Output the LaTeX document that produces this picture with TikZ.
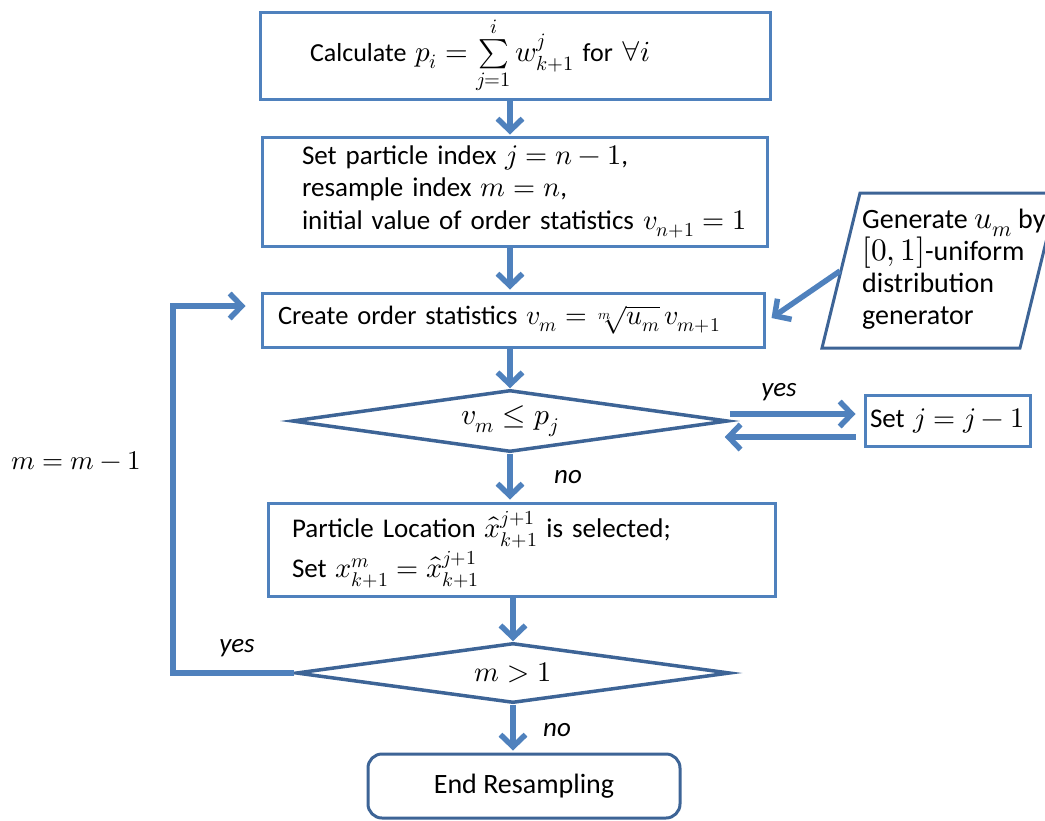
\documentclass[tikz,border=0pt]{standalone}
\usepackage{fontspec}
\usepackage{unicode-math}
\setmainfont{Carlito}
\setmathfont{Latin Modern Math}[Scale=1.05]
\setmathfont{Latin Modern Math}[version=sm,Scale=1.12]
\setmathfont{Latin Modern Math}[version=lg,Scale=1.35]
\usetikzlibrary{shapes.geometric,arrows.meta,calc}
\definecolor{flow}{RGB}{79,129,189}
\definecolor{edge}{RGB}{61,100,150}
\newcommand{\fs}[2]{\fontsize{#1}{#2}\selectfont}

\begin{document}
\begin{tikzpicture}[x=1pt,y=-1pt,
  procbox/.style={draw=flow,line width=3pt,align=left,inner ysep=0pt},
  decision/.style={diamond,draw=edge,line width=3.5pt,inner sep=0pt,aspect=7},
  arr/.style={draw=flow,line width=5.5pt,-{Straight Barb[length=12pt,width=25pt]}},
  lbl/.style={font=\fs{27}{30}\itshape,inner sep=0pt}
]
\clip (0,0) rectangle (1045,820);

% process boxes
\node[procbox,font=\fs{26}{32}\mathversion{sm},minimum height=87pt,inner xsep=50pt,text width=410pt] (calc) at (515,55.5)
  {Calculate $p_i=\sum\limits_{j=1}^{i} w_{k+1}^{j}$ for $\forall i$};
\node[procbox,font=\fs{27}{32.5},minimum height=109pt,inner xsep=40pt,text width=425pt] (init) at (514.5,191.5)
  {\mbox{Set particle index $j=n-1$,}\\ \mbox{resample index $m=n$,}\\ \mbox{initial value of order statistics $v_{n+1}=1$}};
\node[procbox,font=\fs{26.5}{30},minimum height=54pt,inner xsep=16pt,text width=470pt] (order) at (513,320)
  {Create order statistics $v_m=\sqrt[m]{u_m}\,v_{m+1}$};
\node[procbox,font=\fs{27}{30},minimum height=51pt,inner xsep=5pt,text width=155pt] (dec) at (947.5,420.5)
  {\mbox{Set $j=j-1$}};
\node[procbox,font=\fs{27}{40},minimum height=93pt,inner xsep=24pt,text width=459pt] (select) at (521.5,549.5)
  {Particle Location $\hat{x}_{k+1}^{j+1}$ is selected;\\ Set $x_{k+1}^{m}=\hat{x}_{k+1}^{j+1}$};
\node[font=\fs{28}{32},draw=edge,line width=3pt,rounded corners=14pt,minimum width=312pt,minimum height=64pt] (stop) at (524,786)
  {End Resampling};

% decisions
\node[decision,font=\fs{22}{26}\mathversion{lg},minimum width=436pt,minimum height=62pt] (cmp) at (510,421) {$v_m\leq p_j$};
\node[decision,font=\fs{21}{26}\mathversion{lg},minimum width=434pt,minimum height=60pt] (more) at (513,673) {$m>1$};

% random number generator (parallelogram)
\draw[edge,line width=3pt,line join=miter] (822,348) -- (860,193) -- (1058,193) -- (1020,348) -- cycle;
\node[font=\fs{28}{32}\mathversion{sm},align=left,anchor=west,inner sep=0pt] (gen) at (862,269)
  {Generate $u_m$ by\\ $[0,1]$-uniform\\ distribution\\ generator};
\coordinate (genout) at (840,271);

% main flow
\draw[arr] (calc.south -| cmp.north) -- ([yshift=1pt]init.north -| cmp.north);
\draw[arr] (init.south -| cmp.north) -- ([yshift=2pt]order.north -| cmp.north);
\draw[arr] (order.south -| cmp.north) -- (cmp.north);
\draw[arr] (cmp.south) -- ([yshift=2pt]select.north -| cmp.south);
\draw[arr] (select.south -| more.north) -- (more.north);
\draw[arr] (more.south) -- ([yshift=2pt]stop.north -| more.south);

% decrement loop for j
\draw[arr,shorten >=8pt] ([yshift=7pt]cmp.east) -- ([yshift=7pt]dec.west |- cmp.east);
\draw[arr,shorten <=8pt,shorten >=-5pt] ([yshift=-16pt]dec.west |- cmp.east) -- ([yshift=-16pt]cmp.east);
\node[lbl] at (779,392) {yes};
\node[lbl] at (568,477) {no};

% generator feeds the order statistics
\draw[arr] (genout) -- ([xshift=6pt,yshift=2pt]order.east);

% outer loop over m
\coordinate (looptop) at (173,306);
\draw[arr,shorten >=15pt] (more.west) -| (looptop) -- ([yshift=14pt]order.west);
\node[lbl] at (237,648) {yes};
\node[lbl] at (557,730) {no};
\node[font=\fs{20}{24}\mathversion{lg}] (mdec) at (76,461) {$m=m-1$};
\end{tikzpicture}
\end{document}
